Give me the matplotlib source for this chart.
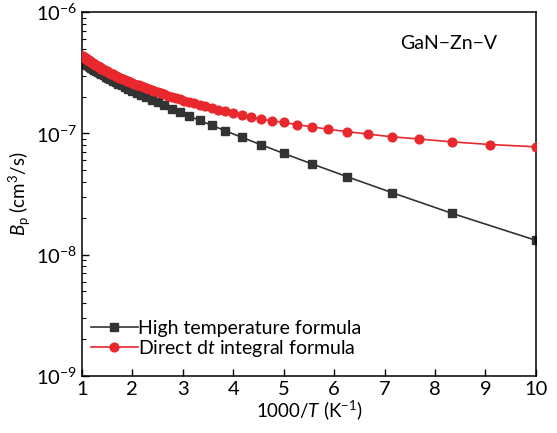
import numpy as np
import matplotlib
matplotlib.use("Agg")
import matplotlib.pyplot as plt
from matplotlib.ticker import LogLocator, NullFormatter, FixedLocator

plt.rcParams['font.family'] = ['Lato', 'DejaVu Sans']
plt.rcParams['mathtext.fontset'] = 'custom'
plt.rcParams['mathtext.rm'] = 'Lato'
plt.rcParams['mathtext.it'] = 'Lato:italic'

# ---- data ----
# High temperature formula: x = 1000/T, log10(Bp)
x_high = [1.000, 1.020, 1.042, 1.064, 1.087, 1.111, 1.136, 1.163, 1.190, 1.220,
          1.250, 1.282, 1.316, 1.351, 1.389, 1.429, 1.471, 1.515, 1.563, 1.613,
          1.667, 1.724, 1.786, 1.852, 1.923, 2.000, 2.083, 2.174, 2.273, 2.381,
          2.500, 2.632, 2.778, 2.941, 3.125, 3.333, 3.571, 3.846, 4.167, 4.545,
          5.000, 5.556, 6.250, 7.143, 8.333, 10.000]
logB_high = [-6.403, -6.409, -6.415, -6.422, -6.429, -6.436, -6.443, -6.450, -6.458, -6.466,
             -6.474, -6.483, -6.492, -6.501, -6.511, -6.521, -6.531, -6.542, -6.553, -6.565,
             -6.577, -6.590, -6.603, -6.618, -6.632, -6.648, -6.665, -6.682, -6.702, -6.722,
             -6.745, -6.769, -6.796, -6.825, -6.857, -6.893, -6.933, -6.979, -7.032, -7.093,
             -7.165, -7.251, -7.356, -7.488, -7.659, -7.882]

# Direct dt integral formula
x_direct = [1.000, 1.010, 1.020, 1.031, 1.042, 1.053, 1.064, 1.075, 1.087, 1.099,
            1.111, 1.124, 1.136, 1.149, 1.163, 1.176, 1.190, 1.205, 1.220, 1.235,
            1.250, 1.266, 1.282, 1.299, 1.316, 1.333, 1.351, 1.370, 1.389, 1.408,
            1.429, 1.449, 1.471, 1.493, 1.515, 1.538, 1.563, 1.587, 1.613, 1.639,
            1.667, 1.695, 1.724, 1.754, 1.786, 1.818, 1.852, 1.887, 1.923, 1.961,
            2.000, 2.041, 2.083, 2.128, 2.174, 2.222, 2.273, 2.326, 2.381, 2.439,
            2.500, 2.564, 2.632, 2.703, 2.778, 2.857, 2.941, 3.030, 3.125, 3.226,
            3.333, 3.448, 3.571, 3.704, 3.846, 4.000, 4.167, 4.348, 4.545, 4.762,
            5.000, 5.263, 5.556, 5.882, 6.250, 6.667, 7.143, 7.692, 8.333, 9.091,
            10.000]
logB_direct = [-6.360, -6.363, -6.366, -6.369, -6.372, -6.376, -6.379, -6.382, -6.386, -6.389,
               -6.392, -6.396, -6.399, -6.403, -6.407, -6.410, -6.414, -6.418, -6.422, -6.426,
               -6.430, -6.434, -6.438, -6.443, -6.447, -6.451, -6.456, -6.460, -6.465, -6.469,
               -6.474, -6.479, -6.484, -6.488, -6.493, -6.498, -6.504, -6.509, -6.514, -6.519,
               -6.525, -6.531, -6.536, -6.542, -6.548, -6.554, -6.560, -6.566, -6.572, -6.579,
               -6.585, -6.592, -6.598, -6.605, -6.612, -6.620, -6.627, -6.635, -6.643, -6.651,
               -6.660, -6.669, -6.678, -6.688, -6.697, -6.707, -6.718, -6.729, -6.740, -6.752,
               -6.764, -6.777, -6.790, -6.805, -6.819, -6.835, -6.851, -6.867, -6.882, -6.897,
               -6.910, -6.928, -6.946, -6.966, -6.985, -7.006, -7.028, -7.047, -7.070, -7.092,
               -7.111]

x_ticks = [1, 2, 3, 4, 5, 6, 7, 8, 9, 10]
y_ticks = [1e-9, 1e-8, 1e-7, 1e-6]
y_ticklabels = [r'$10^{-9}$', r'$10^{-8}$', r'$10^{-7}$', r'$10^{-6}$']

# ---- figure ----
fig = plt.figure(figsize=(5.57, 4.33), dpi=100)
ax = fig.add_axes([0.147, 0.132, 0.815, 0.840])

ax.plot(x_high, 10 ** np.array(logB_high), '-s', color='#333333', lw=1.2,
        ms=5.5, mfc='#333333', mec='#333333', label='High temperature formula', zorder=2)
ax.plot(x_direct, 10 ** np.array(logB_direct), '-o', color='#e8282d', lw=1.2,
        ms=6.3, mfc='#e8282d', mec='#e8282d', label=r'Direct d$\mathit{t}$ integral formula', zorder=3)

ax.set_yscale('log')
ax.set_xlim(1, 10)
ax.set_ylim(1e-9, 1e-6)
ax.xaxis.set_major_locator(FixedLocator(x_ticks))
ax.set_yticks(y_ticks)
ax.set_yticklabels(y_ticklabels)
ax.yaxis.set_minor_locator(LogLocator(base=10, subs=np.arange(2, 10)))
ax.yaxis.set_minor_formatter(NullFormatter())

ax.tick_params(which='both', direction='in', top=False, right=False, labelsize=14.5)
ax.tick_params(which='major', length=5, width=1)
ax.tick_params(which='minor', length=3, width=0.8)
for sp in ax.spines.values():
    sp.set_linewidth(1.1)

ax.set_xlabel(r'1000/$\mathit{T}$ (K$^{-1}$)', fontsize=13.5, labelpad=0)
ax.set_ylabel(r'$\mathit{B}_{\mathrm{p}}$ (cm$^3$/s)', fontsize=13.5, labelpad=2)

ax.text(0.915, 0.915, 'GaN\u2212Zn\u2212V', transform=ax.transAxes, fontsize=14,
        ha='right', va='center')

ax.legend(loc='lower left', bbox_to_anchor=(-0.01, 0.01), frameon=False, fontsize=14,
          handlelength=2.4, handletextpad=0.0, borderaxespad=0.3, labelspacing=0.05,
          markerscale=1.0)

fig.savefig('out.png', dpi=100)
